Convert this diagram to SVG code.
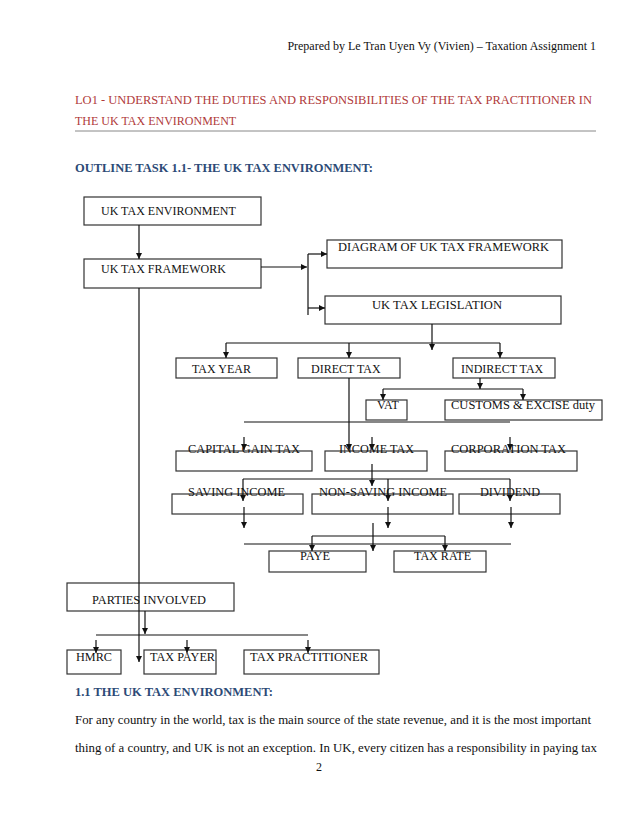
<svg xmlns="http://www.w3.org/2000/svg" width="638" height="826" viewBox="0 0 638 826">
<style>
.bx{fill:#fff;stroke:#333;stroke-width:1.2}
.t{font-family:"Liberation Serif","Times New Roman",serif;font-size:12px;fill:#111}
.red{font-family:"Liberation Serif","Times New Roman",serif;font-size:12px;fill:#b03a3a}
.blu{font-family:"Liberation Serif","Times New Roman",serif;font-size:12px;font-weight:bold;fill:#2c4a76}
.body{font-family:"Liberation Serif","Times New Roman",serif;font-size:12.5px;fill:#111}
.c line,.c path{stroke:#111;stroke-width:1.2;fill:none}
.a{marker-end:url(#ah)}
</style>
<defs>
<marker id="ah" viewBox="0 0 8 8" refX="8" refY="4" markerWidth="6" markerHeight="6" markerUnits="userSpaceOnUse" orient="auto">
<path d="M0,0 L8,4 L0,8 z" fill="#111"/>
</marker>
</defs>
<rect width="638" height="826" fill="#fff"/>
<g id="page">
<text class="t" x="596" y="50" text-anchor="end">Prepared by Le Tran Uyen Vy (Vivien) – Taxation Assignment 1</text>
<text class="red" x="75" y="104" textLength="517" lengthAdjust="spacingAndGlyphs">LO1 - UNDERSTAND THE DUTIES AND RESPONSIBILITIES OF THE TAX PRACTITIONER IN</text>
<text class="red" x="75" y="125">THE UK TAX ENVIRONMENT</text>
<line x1="75" y1="131" x2="596" y2="131" stroke="#888" stroke-width="1"/>
<text class="blu" x="75" y="172" textLength="298" lengthAdjust="spacingAndGlyphs">OUTLINE TASK 1.1- THE UK TAX ENVIRONMENT:</text>
<text class="blu" x="75" y="696" textLength="198" lengthAdjust="spacingAndGlyphs">1.1 THE UK TAX ENVIRONMENT:</text>
<text class="body" x="75" y="724" textLength="516" lengthAdjust="spacingAndGlyphs">For any country in the world, tax is the main source of the state revenue, and it is the most important</text>
<text class="body" x="75" y="752" textLength="522" lengthAdjust="spacingAndGlyphs">thing of a country, and UK is not an exception. In UK, every citizen has a responsibility in paying tax</text>
<text class="t" x="319" y="771" text-anchor="middle">2</text>
</g>
<g id="n1"><rect class="bx" x="84" y="197" width="177" height="28"/><text class="t" x="101" y="215">UK TAX ENVIRONMENT</text></g>
<g id="n2"><rect class="bx" x="84" y="259" width="177" height="29"/><text class="t" x="101" y="273">UK TAX FRAMEWORK</text></g>
<g id="n3"><rect class="bx" x="327" y="240" width="235" height="28"/><text class="t" x="338" y="251" textLength="211" lengthAdjust="spacingAndGlyphs">DIAGRAM OF UK TAX FRAMEWORK</text></g>
<g id="n4"><rect class="bx" x="325" y="296" width="236" height="28"/><text class="t" x="372" y="309" textLength="130" lengthAdjust="spacingAndGlyphs">UK TAX LEGISLATION</text></g>
<g id="n5"><rect class="bx" x="176" y="358" width="101" height="20"/><text class="t" x="192" y="373">TAX YEAR</text></g>
<g id="n6"><rect class="bx" x="298" y="358" width="102" height="20"/><text class="t" x="311" y="373">DIRECT TAX</text></g>
<g id="n7"><rect class="bx" x="453" y="358" width="102" height="20"/><text class="t" x="461" y="373">INDIRECT TAX</text></g>
<g id="n8"><rect class="bx" x="366" y="400" width="41" height="20"/><text class="t" x="377" y="409">VAT</text></g>
<g id="n9"><rect class="bx" x="445" y="400" width="157" height="20"/><text class="t" x="451" y="409" textLength="144" lengthAdjust="spacingAndGlyphs">CUSTOMS &amp; EXCISE duty</text></g>
<g id="n10"><rect class="bx" x="176" y="451" width="136" height="20"/><text class="t" x="188" y="453" textLength="112" lengthAdjust="spacingAndGlyphs">CAPITAL GAIN TAX</text></g>
<g id="n11"><rect class="bx" x="325" y="451" width="102" height="20"/><text class="t" x="339" y="453" textLength="75" lengthAdjust="spacingAndGlyphs">INCOME TAX</text></g>
<g id="n12"><rect class="bx" x="445" y="451" width="132" height="20"/><text class="t" x="451" y="453" textLength="115" lengthAdjust="spacingAndGlyphs">CORPORATION TAX</text></g>
<g id="n13"><rect class="bx" x="172" y="494" width="131" height="20"/><text class="t" x="188" y="496" textLength="97" lengthAdjust="spacingAndGlyphs">SAVING INCOME</text></g>
<g id="n14"><rect class="bx" x="312" y="494" width="141" height="20"/><text class="t" x="319" y="496" textLength="128" lengthAdjust="spacingAndGlyphs">NON-SAVING INCOME</text></g>
<g id="n15"><rect class="bx" x="459" y="494" width="101" height="20"/><text class="t" x="480" y="496" textLength="60" lengthAdjust="spacingAndGlyphs">DIVIDEND</text></g>
<g id="n16"><rect class="bx" x="269" y="551" width="97" height="21"/><text class="t" x="300" y="560" textLength="30" lengthAdjust="spacingAndGlyphs">PAYE</text></g>
<g id="n17"><rect class="bx" x="394" y="551" width="92" height="21"/><text class="t" x="414" y="560" textLength="57" lengthAdjust="spacingAndGlyphs">TAX RATE</text></g>
<g id="n18"><rect class="bx" x="67" y="583" width="167" height="28"/><text class="t" x="92" y="604" textLength="114" lengthAdjust="spacingAndGlyphs">PARTIES INVOLVED</text></g>
<g id="n19"><rect class="bx" x="67" y="650" width="54" height="24"/><text class="t" x="76" y="661" textLength="36" lengthAdjust="spacingAndGlyphs">HMRC</text></g>
<g id="n20"><rect class="bx" x="144" y="650" width="72" height="24"/><text class="t" x="150" y="661" textLength="65" lengthAdjust="spacingAndGlyphs">TAX PAYER</text></g>
<g id="n21"><rect class="bx" x="244" y="650" width="135" height="24"/><text class="t" x="250" y="661" textLength="118" lengthAdjust="spacingAndGlyphs">TAX PRACTITIONER</text></g>
<g id="connectors" class="c">
<line class="a" x1="139" y1="225" x2="139" y2="259"/>
<line class="a" x1="261" y1="267" x2="307" y2="267"/>
<line x1="308" y1="254" x2="308" y2="315"/>
<line class="a" x1="308" y1="254" x2="327" y2="254"/>
<line class="a" x1="308" y1="308" x2="325" y2="308"/>
<line class="a" x1="139" y1="288" x2="139" y2="662"/>
<line class="a" x1="432" y1="324" x2="432" y2="350"/>
<line x1="226" y1="343" x2="500" y2="343"/>
<line class="a" x1="226" y1="343" x2="226" y2="358"/>
<line class="a" x1="349" y1="343" x2="349" y2="358"/>
<line class="a" x1="500" y1="343" x2="500" y2="358"/>
<line class="a" x1="480" y1="378" x2="480" y2="389"/>
<line x1="383" y1="389" x2="523" y2="389"/>
<line class="a" x1="383" y1="389" x2="383" y2="400"/>
<line class="a" x1="523" y1="389" x2="523" y2="400"/>
<line x1="244" y1="422" x2="510" y2="422"/>
<line class="a" x1="349" y1="378" x2="349" y2="450"/>
<line class="a" x1="244" y1="437" x2="244" y2="450"/>
<line class="a" x1="372" y1="437" x2="372" y2="450"/>
<line class="a" x1="510" y1="437" x2="510" y2="450"/>
<line class="a" x1="372" y1="464" x2="372" y2="486"/>
<line x1="243" y1="479" x2="510" y2="479"/>
<line class="a" x1="243" y1="479" x2="243" y2="501"/>
<line class="a" x1="388" y1="479" x2="388" y2="501"/>
<line class="a" x1="510" y1="479" x2="510" y2="501"/>
<line class="a" x1="244" y1="507" x2="244" y2="528"/>
<line class="a" x1="388" y1="507" x2="388" y2="528"/>
<line class="a" x1="511" y1="507" x2="511" y2="528"/>
<line class="a" x1="373" y1="523" x2="373" y2="551"/>
<line x1="312" y1="536" x2="445" y2="536"/>
<line class="a" x1="312" y1="536" x2="312" y2="551"/>
<line class="a" x1="445" y1="536" x2="445" y2="551"/>
<line x1="244" y1="544" x2="511" y2="544"/>
<line class="a" x1="145" y1="611" x2="145" y2="634"/>
<line x1="96" y1="635" x2="308" y2="635"/>
<line class="a" x1="96" y1="640" x2="96" y2="653"/>
<line class="a" x1="187" y1="640" x2="187" y2="653"/>
<line class="a" x1="308" y1="640" x2="308" y2="653"/>
</g>
</svg>
